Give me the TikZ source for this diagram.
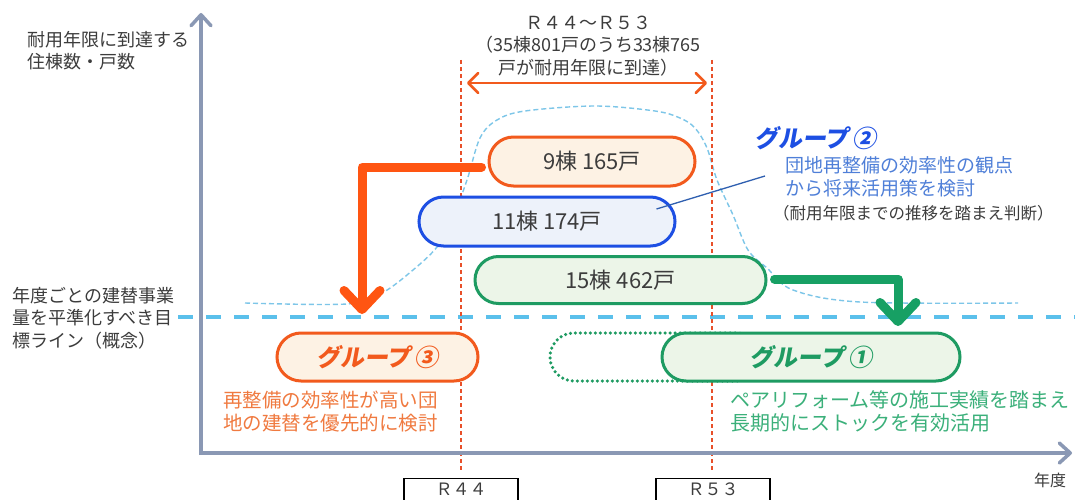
\documentclass[tikz,border=0pt]{standalone}
\usepackage{fontspec}
\setmainfont{Noto Sans CJK JP}
\newfontfamily\grpfont{Noto Sans CJK JP}[FakeSlant=0.18]
\usetikzlibrary{shapes.misc,arrows.meta,calc}
\definecolor{orgline}{HTML}{F25A1D}
\definecolor{orgarrow}{HTML}{FF5512}
\definecolor{orgfill}{HTML}{FDF2E4}
\definecolor{orgtext}{HTML}{F07A40}
\definecolor{bluline}{HTML}{1D4FE3}
\definecolor{blufill}{HTML}{EDF2FA}
\definecolor{blutext}{HTML}{4F7FD8}
\definecolor{grnline}{HTML}{1E9B62}
\definecolor{grnarrow}{HTML}{17A064}
\definecolor{grnfill}{HTML}{ECF5E8}
\definecolor{grntext}{HTML}{3BB07A}
\definecolor{txtgray}{HTML}{3C3C3C}
\definecolor{axisc}{HTML}{8A98B4}
\definecolor{cyanl}{HTML}{5BC0EB}
\definecolor{bellc}{HTML}{7DC6E8}
\definecolor{redd}{HTML}{E8502A}
\definecolor{leadc}{HTML}{2F5FB0}
\newcommand\fsz[2]{\fontsize{#1pt}{#2pt}\selectfont}
\begin{document}
\begin{tikzpicture}[x=1pt,y=-1pt,
  pill/.style={rounded rectangle, draw, line width=3pt, inner sep=0pt, text=txtgray, font=\fsz{22}{26}},
  grptxt/.style={font=\fsz{24}{28}},
  axisline/.style={axisc, line width=3.5pt, -{Straight Barb[length=11pt,width=20pt,round]}},
  redline/.style={redd, line width=1.3pt, dash pattern=on 4pt off 3pt},
  bigarrow/.style={line width=9pt, line join=round, line cap=round, -{Straight Barb[length=19pt,width=36pt,round]}},
  lbl/.style={inner sep=0pt, align=left, anchor=west}
]
\useasboundingbox (0,0) rectangle (1075,500);
\fill[white] (0,0) rectangle (1075,500);

% bell curve
\draw[bellc, line width=1.4pt, dash pattern=on 5pt off 3pt] plot[smooth, tension=0.55] coordinates {
 (245,303) (347,304) (382,293) (413,270) (437,247) (452,220) (467,180) (480,138) (497,120) (525,111) (595,106) (655,111) (680,118) (695,128) (707,148) (717,180) (733,215) (748,250) (767,268) (793,290) (860,302) (1018,303)};

% target line
\coordinate (tl1) at (178,317);
\coordinate (tl2) at (1075,317);
\draw[cyanl, line width=4pt, dash pattern=on 15pt off 13pt] (tl1) -- (tl2);

% red dashed year lines
\coordinate (r44t) at (461,60);
\coordinate (r44b) at (461,472);
\coordinate (r53t) at (712,60);
\coordinate (r53b) at (712,472);
\draw[redline] (r44t) -- (r44b);
\draw[redline] (r53t) -- (r53b);

% axes
\coordinate (yb) at (201,455);
\coordinate (yt) at (201,13);
\coordinate (xl) at (199,453);
\coordinate (xr) at (1072,453);
\draw[axisline] (yb) -- (yt);
\draw[axisline] (xl) -- (xr);

% top range
\node[inner sep=0pt, align=center, text=txtgray, font=\fsz{18}{22.5}] (rng) at (588,46)
  {Ｒ４４～Ｒ５３\\（35棟801戸のうち33棟765\\戸が耐用年限に到達）};
\coordinate (da1) at (467,83);
\coordinate (da2) at (707,83);
\draw[orgline, line width=2.5pt, {Straight Barb[length=10pt,width=20pt,round]}-{Straight Barb[length=10pt,width=20pt,round]}] (da1) -- (da2);

% axis labels
\node[lbl, text=txtgray, font=\fsz{18}{22}] (ylab) at (27,51) {耐用年限に到達する\\住棟数・戸数};
\node[lbl, text=txtgray, font=\fsz{18}{22.5}] (tlab) at (12,318) {年度ごとの建替事業\\量を平準化すべき目\\標ライン（概念）};
\node[inner sep=0pt, text=txtgray, font=\fsz{16}{19}] (xlab) at (1050,480) {年度};

% boxes
\node[pill, orgline, fill=orgfill, minimum width=206pt, minimum height=49pt] (box9) at (592,161.5) {\textcolor{txtgray}{9棟 165戸}};
\node[pill, bluline, fill=blufill, minimum width=256pt, minimum height=49pt] (box11) at (547,221.5) {\textcolor{txtgray}{11棟 174戸}};
\node[pill, grnline, fill=grnfill, minimum width=291pt, minimum height=47pt] (box15) at (620.5,280) {\textcolor{txtgray}{15棟 462戸}};

% dotted extension of group 1
\node[rounded rectangle, draw=grnline, line width=3.5pt, dash pattern=on 0pt off 5pt, line cap=round, minimum width=210pt, minimum height=48pt, inner sep=0pt] (dotbox) at (655,357) {};
\node[pill, grnline, fill=grnfill, minimum width=298pt, minimum height=48pt, grptxt] (g1) at (811,357) {\textcolor{grnline}{\grpfont\bfseries グループ\,①}};
\node[pill, orgline, fill=orgfill, minimum width=201pt, minimum height=48pt, grptxt] (g3) at (377.5,357) {\textcolor{orgline}{\grpfont\bfseries グループ\,③}};

% group 2 text
\node[lbl, text=bluline, grptxt] (g2) at (754,138) {\grpfont\bfseries グループ\,②};
\node[lbl, text=blutext, font=\fsz{19}{23}] (g2t) at (785,176.5) {団地再整備の効率性の観点\\から将来活用策を検討};
\node[lbl, text=txtgray, font=\fsz{16.5}{20}] (g2n) at (773,213) {（耐用年限までの推移を踏まえ判断）};

% group 3 / group 1 descriptions
\node[lbl, text=orgtext, font=\fsz{19.5}{23}] (g3t) at (223,411.5) {再整備の効率性が高い団\\地の建替を優先的に検討};
\node[lbl, text=grntext, font=\fsz{20}{23}] (g1t) at (730,411.5) {ペアリフォーム等の施工実績を踏まえ\\長期的にストックを有効活用};

% leader line for group 2
\coordinate (b2s) at ($(box11.east)+(-20,-12.5)$);
\coordinate (b2e) at (765,176);
\draw[leadc, line width=1.3pt] (b2s) -- (b2e);

% big arrows
\coordinate (o3s) at ($(box9.west)+(-6,5.5)$);
\coordinate (o3e) at (362,314);
\draw[bigarrow, orgarrow] (o3s) -| (o3e);
\coordinate (g1s) at ($(box15.east)+(7,-1)$);
\coordinate (g1e) at (898,326);
\draw[bigarrow, grnarrow] (g1s) -| (g1e);

% year boxes
\node[draw=black, line width=1.2pt, minimum width=114pt, minimum height=28pt, inner sep=0pt, anchor=north, font=\fsz{17}{20}, text=txtgray, text depth=6pt] (y44) at (461,478) {Ｒ４４};
\node[draw=black, line width=1.2pt, minimum width=114pt, minimum height=28pt, inner sep=0pt, anchor=north, font=\fsz{17}{20}, text=txtgray, text depth=6pt] (y53) at (713,478) {Ｒ５３};
\end{tikzpicture}
\end{document}
